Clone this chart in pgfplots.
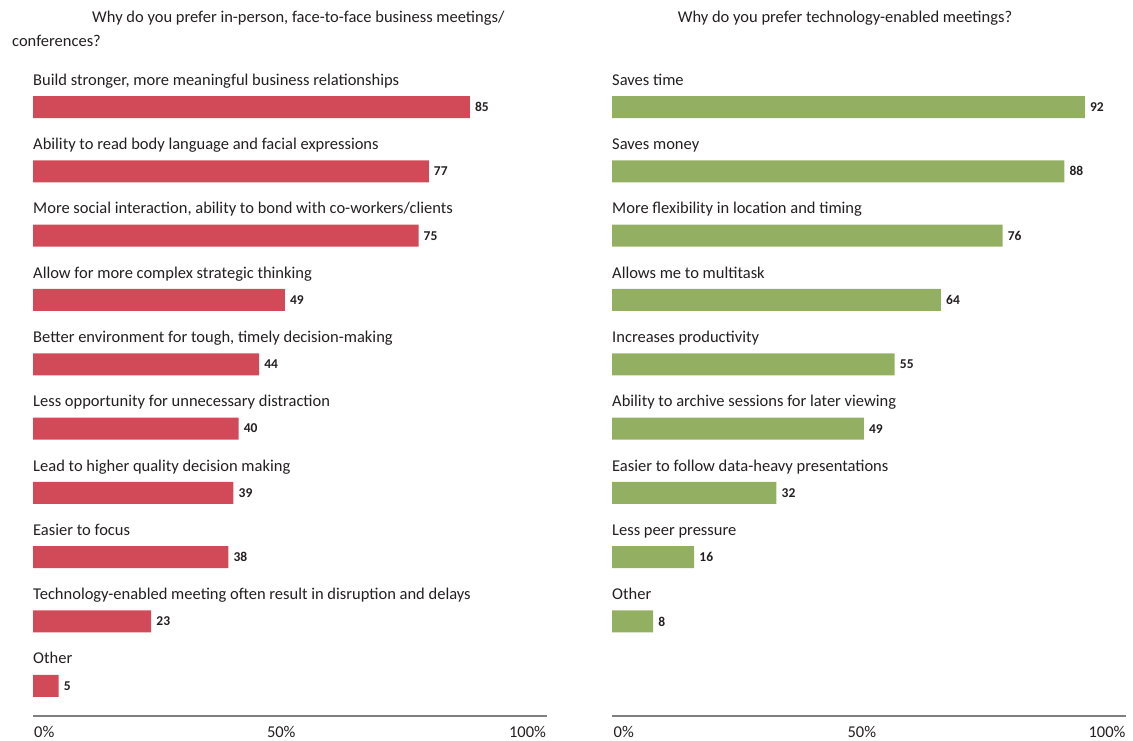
\documentclass[border=0pt]{standalone}
\usepackage{fontspec}
\setmainfont{Carlito}
\usepackage{pgfplots}
\pgfplotsset{compat=1.18}
\definecolor{redbar}{HTML}{D24A58}
\definecolor{greenbar}{HTML}{93B062}
\definecolor{txt}{HTML}{231F20}
\definecolor{axgray}{HTML}{7F7F7F}
\newcommand{\lf}{\fontsize{16.5}{19}\selectfont}
\tikzset{cat/.style={anchor=base west, inner sep=0pt, font=\lf, text=txt}}
\begin{document}
\begin{tikzpicture}
\path[use as bounding box] (0pt,0pt) rectangle (1133pt,740pt);
\pgfplotsset{
 panel/.style={
  scale only axis, width=514pt, height=647.5pt,
  xmin=0, xmax=100, ymin=-9.47, ymax=0.6,
  xbar, bar width=22pt,
  axis x line=bottom, axis y line=none,
  x axis line style={axgray, line width=1.5pt, -},
  major tick length=0pt,
  ytick=\empty,
  xticklabels={0\%,50\%,100\%},
  xticklabel style={font=\lf, text=txt, anchor=north, inner sep=0pt, yshift=-10pt},
  /pgf/number format/assume math mode=true,
  nodes near coords,
  nodes near coords style={font=\bfseries\fontsize{13.5}{15}\selectfont, text=txt, anchor=west, inner sep=0pt, xshift=5pt},
  clip=false,
 },
}
\node[cat] at (92pt,717pt) {Why do you prefer in-person, face-to-face business meetings/};
\node[cat] at (12pt,693pt) {conferences?};
\node[anchor=base, inner sep=0pt, font=\lf, text=txt] at (845pt,717pt) {Why do you prefer technology-enabled meetings?};

\begin{axis}[panel, at={(33pt,24pt)}, anchor=south west, xtick={2.2,48.3,96.2}]
\addplot[fill=redbar, draw=none] coordinates {
 (85,0) (77,-1) (75,-2) (49,-3) (44,-4) (40,-5) (39,-6) (38,-7) (23,-8) (5,-9)};
\node[cat] at (axis cs:0,0.34) {Build stronger, more meaningful business relationships};
\node[cat] at (axis cs:0,-0.66) {Ability to read body language and facial expressions};
\node[cat] at (axis cs:0,-1.66) {More social interaction, ability to bond with co-workers/clients};
\node[cat] at (axis cs:0,-2.66) {Allow for more complex strategic thinking};
\node[cat] at (axis cs:0,-3.66) {Better environment for tough, timely decision-making};
\node[cat] at (axis cs:0,-4.66) {Less opportunity for unnecessary distraction};
\node[cat] at (axis cs:0,-5.66) {Lead to higher quality decision making};
\node[cat] at (axis cs:0,-6.66) {Easier to focus};
\node[cat] at (axis cs:0,-7.66) {Technology-enabled meeting often result in disruption and delays};
\node[cat] at (axis cs:0,-8.66) {Other};
\end{axis}

\begin{axis}[panel, at={(612pt,24pt)}, anchor=south west, xtick={2.3,48.6,96.3}]
\addplot[fill=greenbar, draw=none] coordinates {
 (92,0) (88,-1) (76,-2) (64,-3) (55,-4) (49,-5) (32,-6) (16,-7) (8,-8)};
\node[cat] at (axis cs:0,0.34) {Saves time};
\node[cat] at (axis cs:0,-0.66) {Saves money};
\node[cat] at (axis cs:0,-1.66) {More flexibility in location and timing};
\node[cat] at (axis cs:0,-2.66) {Allows me to multitask};
\node[cat] at (axis cs:0,-3.66) {Increases productivity};
\node[cat] at (axis cs:0,-4.66) {Ability to archive sessions for later viewing};
\node[cat] at (axis cs:0,-5.66) {Easier to follow data-heavy presentations};
\node[cat] at (axis cs:0,-6.66) {Less peer pressure};
\node[cat] at (axis cs:0,-7.66) {Other};
\end{axis}
\end{tikzpicture}
\end{document}
